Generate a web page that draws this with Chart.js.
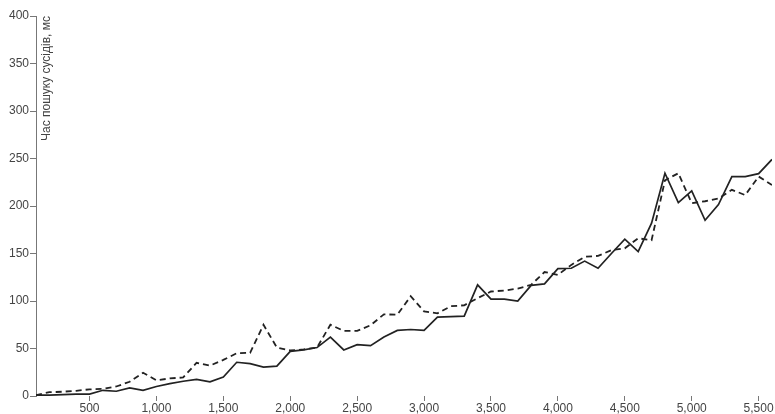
<!DOCTYPE html>
<html lang="uk">
<head>
<meta charset="utf-8">
<title>Час пошуку сусідів</title>
<script src="https://cdn.jsdelivr.net/npm/chart.js@4/dist/chart.umd.min.js"></script>
<style>
  html, body { margin: 0; padding: 0; background: #fff; }
  #wrap { width: 775px; height: 414px; position: relative; }
</style>
</head>
<body>
<div id="wrap"><canvas id="chart" width="775" height="414"></canvas></div>
<script>
// Number of points (x axis)
const sizes = [
  100, 200, 300, 400, 500, 600, 700, 800, 900, 1000,
  1100, 1200, 1300, 1400, 1500, 1600, 1700, 1800, 1900, 2000,
  2100, 2200, 2300, 2400, 2500, 2600, 2700, 2800, 2900, 3000,
  3100, 3200, 3300, 3400, 3500, 3600, 3700, 3800, 3900, 4000,
  4100, 4200, 4300, 4400, 4500, 4600, 4700, 4800, 4900, 5000,
  5100, 5200, 5300, 5400, 5500, 5600
];

// Neighbour search time, ms — solid series
const solidTimes = [
  1, 1, 1.5, 2, 2, 6, 5, 8.5, 6, 10,
  13, 15.5, 17.5, 15, 20, 35.5, 34, 30.5, 31.5, 47,
  48.5, 51, 62, 48.5, 54, 53, 62, 69, 70, 69,
  83, 83.5, 84, 117, 102, 102, 100, 116.5, 118, 134,
  134.5, 142, 134.5, 150, 165, 152, 182, 234.5, 203.5, 216,
  185, 201.5, 231, 231, 234, 249
];

// Neighbour search time, ms — dashed series
const dashedTimes = [
  1, 4, 4.5, 5.5, 7, 7.5, 10, 15, 24.5, 16.5,
  18.5, 19.5, 35, 32, 38, 45, 45.5, 75, 51, 48,
  49, 51, 75, 68.5, 68.5, 74.5, 86, 85.5, 105, 89,
  87, 94.5, 95.5, 103, 110, 111, 113, 117, 130.5, 127.5,
  138, 146.5, 147.5, 153.5, 155.5, 166, 164, 227, 234.5, 203,
  205, 208, 217, 211.5, 231, 222
];

const xTicks = [500, 1000, 1500, 2000, 2500, 3000, 3500, 4000, 4500, 5000, 5500];
const yTicks = [0, 50, 100, 150, 200, 250, 300, 350, 400];
const yTitle = 'Час пошуку сусідів, мс';

const FONT = '"Liberation Sans", Arial, Helvetica, sans-serif';
const TEXT_COLOR = '#444';
const AXIS_COLOR = '#777';
const LINE_COLOR = '#222';

const toPoints = (ys) => sizes.map((x, i) => ({ x: x, y: ys[i] }));

// Axis title drawn inside the plot, next to the y axis line
const yTitlePlugin = {
  id: 'yTitleInside',
  afterDraw(chart) {
    const { ctx, chartArea } = chart;
    ctx.save();
    ctx.translate(chartArea.left + 14, chartArea.top);
    ctx.rotate(-Math.PI / 2);
    ctx.font = '12px ' + FONT;
    ctx.fillStyle = TEXT_COLOR;
    ctx.textAlign = 'right';
    ctx.textBaseline = 'alphabetic';
    ctx.fillText(yTitle, 0, 0);
    ctx.restore();
  }
};

new Chart(document.getElementById('chart'), {
  type: 'line',
  data: {
    datasets: [
      {
        data: toPoints(solidTimes),
        borderColor: LINE_COLOR,
        borderWidth: 1.7,
        pointRadius: 0,
        tension: 0,
        fill: false
      },
      {
        data: toPoints(dashedTimes),
        borderColor: LINE_COLOR,
        borderWidth: 1.8,
        borderDash: [6, 4],
        pointRadius: 0,
        tension: 0,
        fill: false
      }
    ]
  },
  options: {
    responsive: false,
    animation: false,
    devicePixelRatio: 1,
    layout: { padding: { top: 16, right: 3, left: 0, bottom: 0 } },
    plugins: {
      legend: { display: false },
      tooltip: { enabled: false }
    },
    scales: {
      x: {
        type: 'linear',
        min: sizes[0],
        max: sizes[sizes.length - 1],
        afterBuildTicks(scale) {
          scale.ticks = xTicks.map(v => ({ value: v }));
        },
        afterFit(scale) { scale.height = 18; },
        border: { display: false },
        grid: {
          drawOnChartArea: false,
          drawTicks: true,
          tickLength: 5,
          color: AXIS_COLOR
        },
        ticks: {
          autoSkip: false,
          maxRotation: 0,
          padding: 0,
          color: TEXT_COLOR,
          font: { family: FONT, size: 12 },
          callback: (v) => Number(v).toLocaleString('en-US')
        }
      },
      y: {
        type: 'linear',
        min: yTicks[0],
        max: yTicks[yTicks.length - 1],
        afterBuildTicks(scale) {
          scale.ticks = yTicks.map(v => ({ value: v }));
        },
        afterFit(scale) { scale.width = 36; },
        border: { display: true, color: AXIS_COLOR, width: 1 },
        grid: {
          drawOnChartArea: false,
          drawTicks: true,
          tickLength: 6,
          color: AXIS_COLOR
        },
        ticks: {
          autoSkip: false,
          padding: 1,
          color: TEXT_COLOR,
          font: { family: FONT, size: 12 },
          callback: (v) => String(v)
        }
      }
    }
  },
  plugins: [yTitlePlugin]
});
</script>
</body>
</html>
